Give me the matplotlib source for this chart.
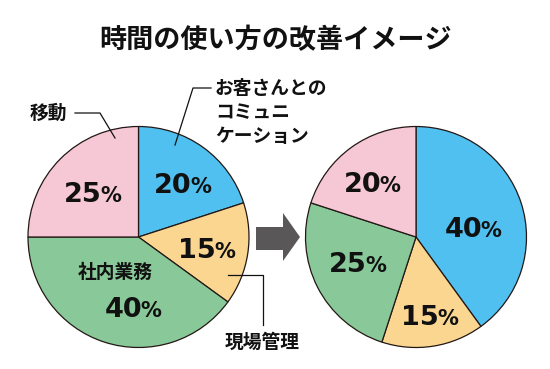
import matplotlib
matplotlib.use("Agg")
import matplotlib.pyplot as plt

plt.rcParams['font.family'] = ['Noto Sans CJK JP', 'DejaVu Sans']

title = "時間の使い方の改善イメージ"
categories = ["お客さんとのコミュニケーション", "現場管理", "社内業務", "移動"]
before_values = [20, 15, 40, 25]
after_values = [40, 15, 25, 20]
colors = ["#50C0F0", "#FAD690", "#89C898", "#F6C7D5"]

W, H = 550, 369
fig = plt.figure(figsize=(W / 100, H / 100), dpi=100)
ax = fig.add_axes([0, 0, 1, 1])
ax.set_xlim(0, W)
ax.set_ylim(0, H)
ax.set_aspect('equal')
ax.axis('off')


def Y(y_img):
    return H - y_img


edge = dict(edgecolor="#231815", linewidth=0.9)
left_c = (138.5, Y(237))
right_c = (416, Y(237))
R = 110.5

ax.pie(before_values, colors=colors, startangle=90, counterclock=False,
       center=left_c, radius=R, wedgeprops=edge, frame=True)
ax.pie(after_values, colors=colors, startangle=90, counterclock=False,
       center=right_c, radius=R, wedgeprops=edge, frame=True)
ax.set_xlim(0, W)
ax.set_ylim(0, H)
ax.axis('off')


def pct(x, y_img, v):
    yb = Y(y_img + 10)
    anchor = x + 9
    ax.text(anchor, yb, f"{v}", ha='right', va='baseline', fontsize=19.5,
            fontweight='bold', family='DejaVu Sans', color='#111111')
    ax.text(anchor - 1.5, yb, "%", ha='left', va='baseline', fontsize=15,
            fontweight='bold', family='DejaVu Sans', color='#111111')


# left pie percentages (order: blue, yellow, green, pink)
left_pos = [(183, 183), (207, 248), (133, 307), (93, 192)]
right_pos = [(473, 227), (430, 315), (358, 262), (372, 182)]
for (x, y), v in zip(left_pos, before_values):
    pct(x, y, v)
for (x, y), v in zip(right_pos, after_values):
    pct(x, y, v)

# title
ax.text(276, Y(40), title, ha='center', va='center', fontsize=19.5,
        fontweight='bold', color='#111111')

lab = dict(fontsize=13.5, fontweight=600, color='#111111')
# 移動
ax.text(48, Y(113), categories[3], ha='center', va='center', **lab)
ax.plot([75, 100, 115], [Y(113), Y(113), Y(138)], color='#111111', lw=0.9)
# communication
ax.text(215, Y(88), "お客さんとの", ha='left', va='center', **lab)
ax.text(215, Y(113), "コミュニ", ha='left', va='center', **lab)
ax.text(215, Y(137), "ケーション", ha='left', va='center', **lab)
ax.plot([211, 193, 175], [Y(88), Y(88), Y(145)], color='#111111', lw=0.9)
# 現場管理
ax.text(262, Y(342), categories[1], ha='center', va='center', **lab)
ax.plot([228, 263, 263], [Y(275), Y(275), Y(325)], color='#111111', lw=0.9)
# 社内業務 inside
ax.text(115, Y(272), categories[2], ha='center', va='center', **lab)

# arrow
arrow_x = [256, 283, 283, 300, 283, 283, 256]
arrow_y = [Y(227), Y(227), Y(213), Y(237), Y(261), Y(250), Y(250)]
ax.fill(arrow_x, arrow_y, color='#595757', lw=0)

fig.savefig("out.png", dpi=100)
